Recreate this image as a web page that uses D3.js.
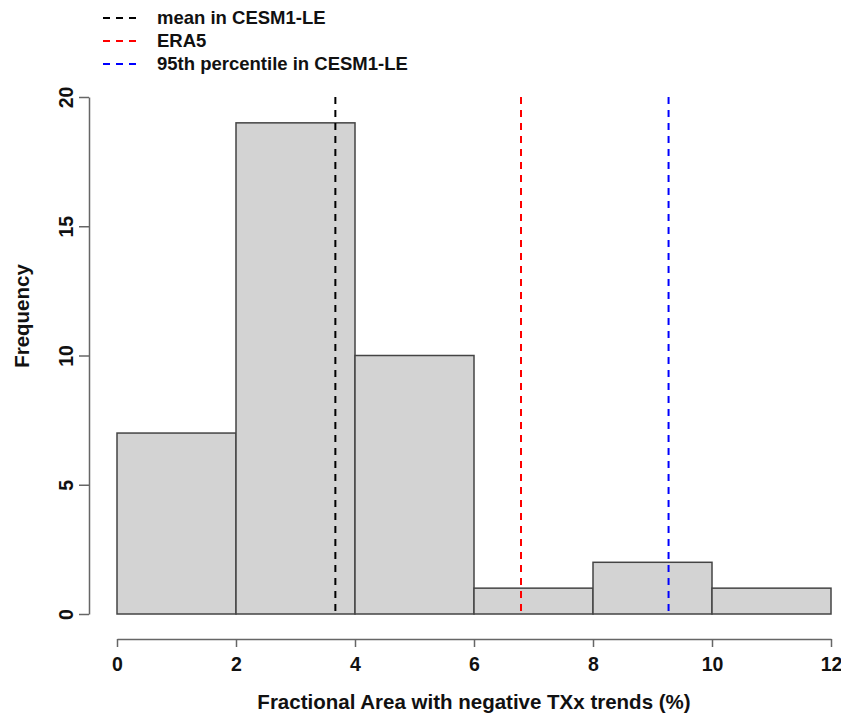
<!DOCTYPE html>
<html lang="en">
<head>
<meta charset="utf-8">
<title>Histogram</title>
<script src="https://cdn.jsdelivr.net/npm/d3@7"></script>
<style>
  body { margin: 0; background: #fff; }
  text { font-family: "Liberation Sans", Arial, sans-serif; font-weight: bold; fill: #111; }
</style>
</head>
<body>
<div id="vis-container"></div>
<script>
// histogram bins (left edge, right edge) and counts
var binStarts = [0, 2, 4, 6, 8, 10];
var binEnds   = [2, 4, 6, 8, 10, 12];
var counts    = [7, 19, 10, 1, 2, 1];

// reference lines
var refNames  = ["mean in CESM1-LE", "ERA5", "95th percentile in CESM1-LE"];
var refValues = [3.67, 6.79, 9.27];
var refColors = ["#000000", "#ff0000", "#0000ff"];

var xTicks = [0, 2, 4, 6, 8, 10, 12];
var yTicks = [0, 5, 10, 15, 20];

var W = 841, H = 714;
var x = d3.scaleLinear().domain([0, 12]).range([117, 831]);
var y = d3.scaleLinear().domain([0, 20]).range([614, 97]);

var svg = d3.select("#vis-container").append("svg")
    .attr("width", W).attr("height", H);

// bars
var bins = counts.map(function(c, i) { return {x0: binStarts[i], x1: binEnds[i], n: c}; });
svg.selectAll("rect.bar")
  .data(bins)
  .enter().append("rect")
    .attr("class", "bar")
    .attr("x", function(d) { return x(d.x0); })
    .attr("y", function(d) { return y(d.n); })
    .attr("width", function(d) { return x(d.x1) - x(d.x0); })
    .attr("height", function(d) { return y(0) - y(d.n); })
    .style("fill", "#d3d3d3")
    .style("stroke", "#444")
    .style("stroke-width", 1.5);

// dashed reference lines
svg.selectAll("line.ref")
  .data(refValues)
  .enter().append("line")
    .attr("class", "ref")
    .attr("x1", function(d) { return x(d); })
    .attr("x2", function(d) { return x(d); })
    .attr("y1", y(20))
    .attr("y2", y(0))
    .style("stroke", function(d, i) { return refColors[i]; })
    .style("stroke-width", 2)
    .style("stroke-dasharray", "7,6");

// x axis
var xAxis = svg.append("g")
    .attr("transform", "translate(0,639)")
    .call(d3.axisBottom(x).tickValues(xTicks).tickSize(8).tickPadding(10).tickSizeOuter(0));
// y axis
var yAxis = svg.append("g")
    .attr("transform", "translate(89,0)")
    .call(d3.axisLeft(y).tickValues(yTicks).tickSize(10).tickSizeOuter(0));

[xAxis, yAxis].forEach(function(g) {
  g.select(".domain").style("stroke", "#666").style("stroke-width", 1.5);
  g.selectAll(".tick line").style("stroke", "#666").style("stroke-width", 1.5);
  g.selectAll(".tick text").style("font-size", "19.5px").style("font-family", "Liberation Sans, Arial, sans-serif")
    .style("font-weight", "bold").style("fill", "#111");
});

// rotate y tick labels like R
yAxis.selectAll(".tick text")
    .attr("x", null).attr("dy", null)
    .attr("transform", "translate(-23,0) rotate(-90)")
    .attr("text-anchor", "middle")
    .attr("dy", "0.35em");

// axis titles
svg.append("text")
    .attr("x", 474).attr("y", 709)
    .attr("text-anchor", "middle")
    .style("font-size", "20.5px")
    .text("Fractional Area with negative TXx trends (%)");

svg.append("text")
    .attr("transform", "translate(29,316) rotate(-90)")
    .attr("text-anchor", "middle")
    .style("font-size", "20.5px")
    .text("Frequency");

// legend
var legend = svg.selectAll("g.leg")
  .data(refNames)
  .enter().append("g")
    .attr("class", "leg")
    .attr("transform", function(d, i) { return "translate(0," + (18 + i * 23) + ")"; });

legend.append("line")
    .attr("x1", 103).attr("x2", 140)
    .attr("y1", 0).attr("y2", 0)
    .style("stroke", function(d, i) { return refColors[i]; })
    .style("stroke-width", 2)
    .style("stroke-dasharray", "7,6");

legend.append("text")
    .attr("x", 157).attr("y", 0)
    .attr("dy", "0.35em")
    .style("font-size", "18.5px")
    .text(function(d) { return d; });
</script>
</body>
</html>
